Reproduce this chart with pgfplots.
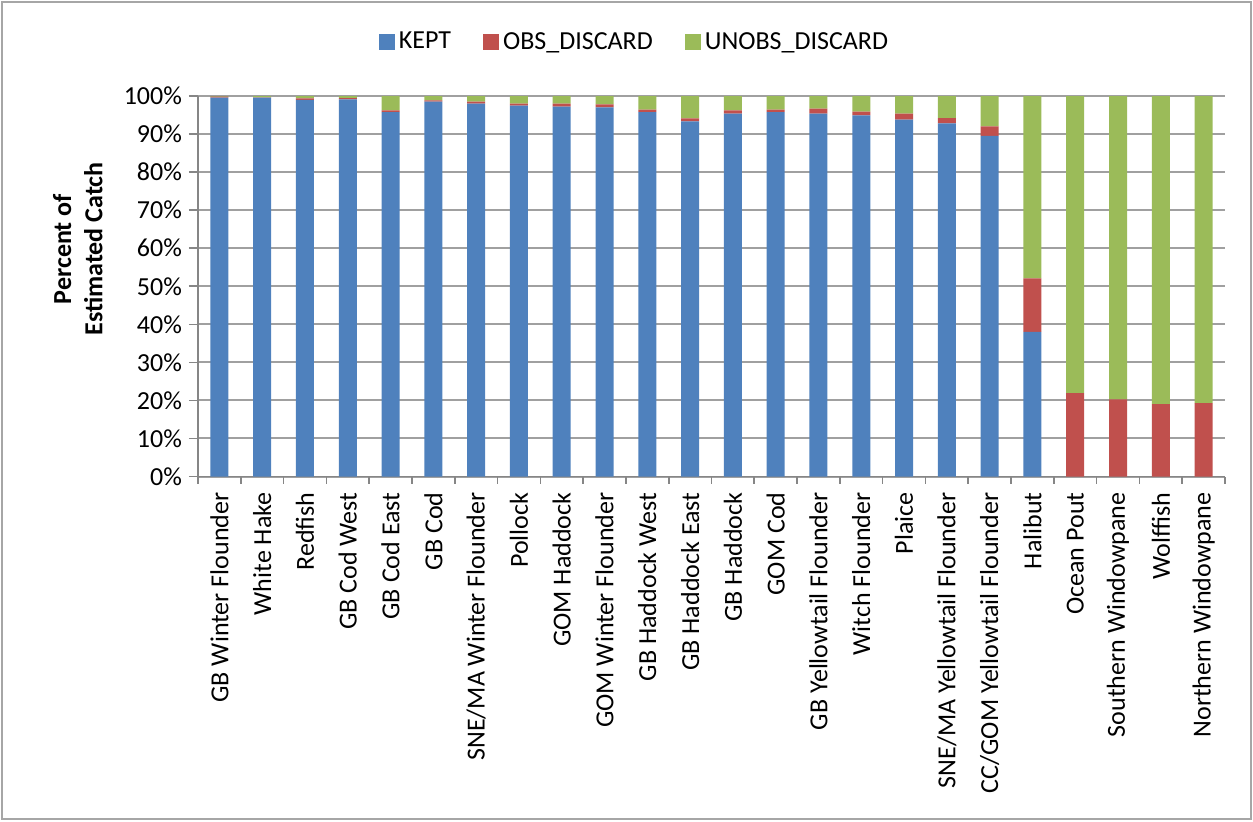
\documentclass[border=0pt]{standalone}
\usepackage{pgfplots}
\pgfplotsset{compat=1.18}
\usepackage{pgfplotstable}
\usepackage{fontspec}
\setmainfont{Carlito}

\definecolor{kept}{HTML}{4F81BD}
\definecolor{obs}{HTML}{C0504D}
\definecolor{unobs}{HTML}{9BBB59}
\definecolor{gridgray}{HTML}{A0A0A0}
\definecolor{axisgray}{HTML}{868686}
\definecolor{framegray}{HTML}{A6A6A6}

\newcommand{\chartfont}{\fontsize{13}{15.6}\selectfont}

% percent of estimated catch by stock
\pgfplotstableread{
x kept obs unobs
0  99.6  0.25 0.15
1  99.6  0.05 0.35
2  99.0  0.35 0.65
3  99.1  0.35 0.55
4  95.75 0.5  3.75
5  98.5  0.35 1.15
6  98.0  0.5  1.5
7  97.5  0.5  2.0
8  97.2  0.8  2.0
9  97.0  0.8  2.2
10 95.75 0.7  3.55
11 93.3  0.85 5.85
12 95.4  0.8  3.8
13 95.75 0.7  3.55
14 95.4  1.3  3.3
15 94.9  1.0  4.1
16 93.8  1.55 4.65
17 92.8  1.4  5.8
18 89.5  2.5  8.0
19 38.0  14.1 47.9
20 0     21.9 78.1
21 0     20.3 79.7
22 0     19.0 81.0
23 0     19.3 80.7
}\catch

\begin{document}
\begin{tikzpicture}
\useasboundingbox (0,0) rectangle (626.5pt,410.5pt);
\draw[framegray, line width=0.8pt] (1pt,1pt) rectangle (625.5pt,409.5pt);
\begin{axis}[
    at={(99pt,172.25pt)}, anchor=south west,
    scale only axis,
    width=513.5pt, height=190.25pt,
    ybar stacked,
    bar width=9pt,
    xmin=-0.5, xmax=23.5,
    ymin=0, ymax=100,
    ytick={0,10,...,100},
    yticklabel={\pgfmathprintnumber{\tick}\%},
    /pgf/number format/assume math mode=true,
    xtick={0,...,23},
    xticklabels={GB Winter Flounder, White Hake, Redfish, GB Cod West, GB Cod East, GB Cod,
        SNE/MA Winter Flounder, Pollock, GOM Haddock, GOM Winter Flounder, GB Haddock West,
        GB Haddock East, GB Haddock, GOM Cod, GB Yellowtail Flounder, Witch Flounder, Plaice,
        SNE/MA Yellowtail Flounder, CC/GOM Yellowtail Flounder, Halibut, Ocean Pout,
        Southern Windowpane, Wolffish, Northern Windowpane},
    minor xtick={-0.5,0.5,...,23.5},
    major x tick style={draw=none},
    tick align=outside,
    major tick length=4.5pt,
    minor tick length=3.5pt,
    tick style={axisgray, line width=0.8pt},
    x tick label style={rotate=90, anchor=east, font=\chartfont},
    y tick label style={font=\chartfont},
    axis lines*=left,
    axis line style={axisgray, line width=0.8pt, -},
    ymajorgrids,
    major grid style={gridgray, line width=1pt},
    ylabel={Percent of\\Estimated Catch},
    ylabel style={at={(axis description cs:-0.117,0.598)}, anchor=center,
        align=center, font=\chartfont\bfseries},
    legend style={at={(axis description cs:0.426,1.1417)}, anchor=center,
        draw=none, legend columns=3, font=\chartfont,
        /tikz/every even column/.append style={column sep=14pt}},
]
\addplot[fill=kept, draw=none,
    legend image code/.code={\fill[kept] (0pt,-4pt) rectangle (8pt,4pt);}]
    table[x=x, y=kept] {\catch};
\addplot[fill=obs, draw=none,
    legend image code/.code={\fill[obs] (0pt,-4pt) rectangle (8pt,4pt);}]
    table[x=x, y=obs] {\catch};
\addplot[fill=unobs, draw=none,
    legend image code/.code={\fill[unobs] (0pt,-4pt) rectangle (8pt,4pt);}]
    table[x=x, y=unobs] {\catch};
\legend{KEPT, OBS\_DISCARD, UNOBS\_DISCARD}
\end{axis}
\end{tikzpicture}
\end{document}
